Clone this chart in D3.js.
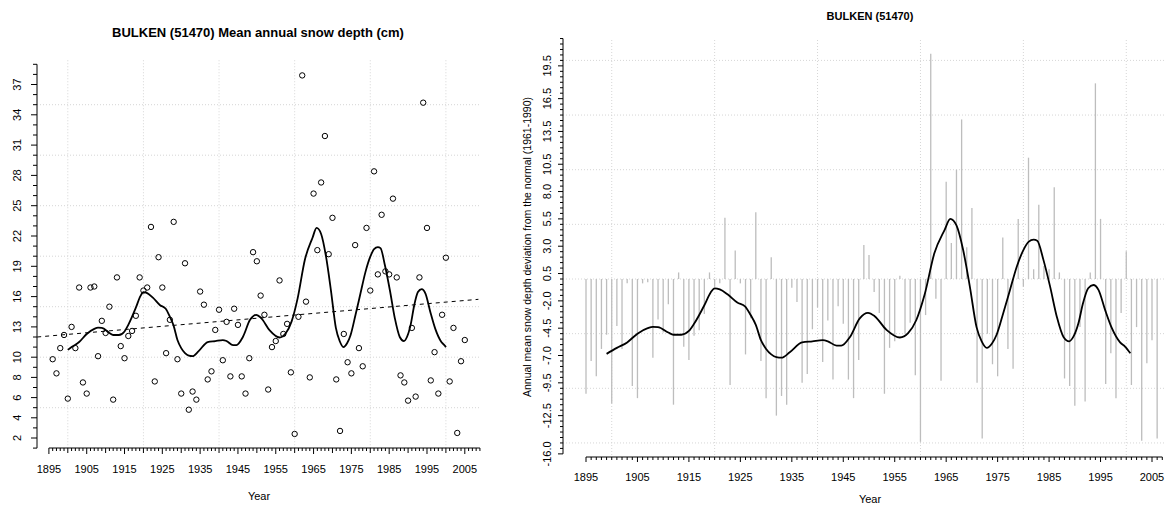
<!DOCTYPE html>
<html>
<head>
<meta charset="utf-8">
<script src="https://cdn.jsdelivr.net/npm/d3@7"></script>
<style>
  html, body { margin: 0; padding: 0; background: #fff; }
  svg { display: block; }
  text { font-family: "Liberation Sans", Arial, sans-serif; fill: #000; }
  .narrow { font-family: "Liberation Sans Narrow", "Arial Narrow", "Liberation Sans", sans-serif; }
</style>
</head>
<body>
<svg id="chart" width="1170" height="507"></svg>
<script>
// ---------------- DATA ----------------
const years = d3.range(1895, 2007);
const snowDepth = [
  6.8, 9.8, 8.4, 10.9, 12.2, 5.9, 13.0, 10.9, 16.9, 7.5,   // 1895-1904
  6.4, 16.9, 17.0, 10.1, 13.6, 12.4, 15.0, 5.8, 17.9, 11.1, // 1905-1914
  9.9, 12.1, 12.6, 14.1, 17.9, 16.6, 16.9, 22.9, 7.6, 19.9, // 1915-1924
  16.9, 10.4, 13.7, 23.4, 9.8, 6.4, 19.3, 4.8, 6.6, 5.8,    // 1925-1934
  16.5, 15.2, 7.8, 8.6, 12.7, 14.7, 9.7, 13.5, 8.1, 14.8,   // 1935-1944
  13.2, 8.1, 6.4, 9.9, 20.4, 19.5, 16.1, 14.2, 6.8, 11.0,   // 1945-1954
  11.6, 17.6, 12.3, 13.3, 8.5, 2.4, 14.0, 37.9, 15.5, 8.0,  // 1955-1964
  26.2, 20.6, 27.3, 31.9, 20.2, 23.8, 7.8, 2.7, 12.3, 9.5,  // 1965-1974
  8.4, 21.1, 10.9, 9.1, 22.8, 16.6, 28.4, 18.2, 24.1, 18.5, // 1975-1984
  18.2, 25.7, 17.9, 8.2, 7.5, 5.7, 12.9, 6.1, 17.9, 35.2,   // 1985-1994
  22.8, 7.7, 10.5, 6.4, 14.2, 19.85, 7.6, 12.9, 2.5, 9.6,   // 1995-2004
  11.7, 2.7                                                 // 2005-2006
];
const normalValue = 17.3; // mean 1961-1990
const leftYears = [1896, 2005];

const smoothYears = [1899, 1901, 1903, 1905, 1907, 1908, 1909, 1911, 1912, 1913.5, 1915, 1916, 1918,
  1919.2, 1920, 1921, 1922.5, 1924.4, 1925.9, 1927, 1928, 1929, 1930, 1931, 1932, 1933, 1934.6, 1937,
  1939, 1941, 1942, 1943.7, 1944.6, 1946.3, 1948.2, 1949.8, 1951.1, 1953.4, 1956, 1957.6, 1959.2,
  1960.8, 1962.7, 1964.7, 1965.8, 1967, 1968.3, 1969.6, 1970.9, 1971.9, 1972.9, 1973.9, 1974.8,
  1976.1, 1977.4, 1978.7, 1980, 1981, 1982, 1982.7, 1983.9, 1985.2, 1986.5, 1987.8, 1988.9, 1989.7,
  1990.7, 1991.6, 1992.6, 1993.6, 1994.6, 1995.9, 1997.2, 1998.8, 1999.8, 2000.8];
const smoothDeviation = [-6.85, -6.3, -5.8, -5.0, -4.5, -4.38, -4.4, -4.9, -5.1, -5.1, -4.75, -4.1, -2.4,
  -1.25, -0.85, -0.95, -1.4, -2.15, -2.5, -3.3, -4.2, -5.6, -6.4, -6.9, -7.15, -7.2, -6.7, -5.8,
  -5.7, -5.6, -5.7, -6.1, -6.1, -5.3, -3.6, -3.1, -3.4, -4.65, -5.35, -4.95, -3.75,
  -1.45, 2.35, 4.5, 5.5, 4.9, 2.65, -0.7, -4.4, -5.7, -6.3, -5.9, -5.1,
  -3.1, -1.0, 1.1, 2.65, 3.4, 3.6, 3.5, 1.75, -0.7, -3.45, -5.3, -5.7, -5.3,
  -4.05, -2.2, -0.85, -0.55, -1.0, -2.85, -4.5, -5.8, -6.2, -6.8];
const leftSmoothRange = [1900, 2000];

const trendYears = [1891.9, 2008.6];
const trendValues = [12.0, 15.73];

const leftYTickLabels = [2, 4, 6, 8, 10, 13, 16, 19, 22, 25, 28, 31, 34, 37];
const leftGridY = [5, 10, 15, 20, 25, 30, 35];
const rightYTickLabels = [-16.0, -12.5, -9.5, -7.0, -4.5, -2.0, 0.5, 3.0, 5.5, 8.0, 10.5, 13.5, 16.5, 19.5];
const rightGridY = [-15, -10, -5, 0, 5, 10, 15, 20];
const xTickLabels = [1895, 1905, 1915, 1925, 1935, 1945, 1955, 1965, 1975, 1985, 1995, 2005];
const gridYears = [1900, 1920, 1940, 1960, 1980, 2000];

const leftTitle = "BULKEN (51470) Mean annual snow depth (cm)";
const rightTitle = "BULKEN (51470)";
const rightYTitle = "Annual mean snow depth deviation from the normal (1961-1990)";

// ---------------- DRAW ----------------
const svg = d3.select("#chart");
const gridColor = "#d6d6d6";
const data = years.map((y, i) => ({ year: y, value: snowDepth[i], dev: +(snowDepth[i] - normalValue).toFixed(2) }));
const smooth = smoothYears.map((y, i) => ({ year: y, dev: smoothDeviation[i] }));

// ===== LEFT CHART =====
{
  const x = d3.scaleLinear().domain([1895, 2005]).range([48.9, 464.8]);
  const y = d3.scaleLinear().domain([2, 37]).range([438, 84.5]);
  const left = 37, right = 480, top = y(39.4), bottom = y(1);
  const g = svg.append("g");

  // grid
  g.selectAll(".vg").data(gridYears).join("line")
    .attr("x1", d => x(d)).attr("x2", d => x(d)).attr("y1", top).attr("y2", bottom)
    .attr("stroke", gridColor).attr("stroke-dasharray", "1,2");
  g.selectAll(".hg").data(leftGridY).join("line")
    .attr("x1", left).attr("x2", right).attr("y1", d => y(d)).attr("y2", d => y(d))
    .attr("stroke", gridColor).attr("stroke-dasharray", "1,2");

  // y axis
  const yAx = g.append("g").attr("transform", `translate(${left},0)`);
  yAx.append("line").attr("x1", 0).attr("x2", 0).attr("y1", y(1)).attr("y2", y(39)).attr("stroke", "#000");
  yAx.selectAll(".yt").data(d3.range(1, 40)).join("line")
    .attr("x1", 0).attr("x2", d => leftYTickLabels.includes(d) ? -6 : -4)
    .attr("y1", d => y(d)).attr("y2", d => y(d)).attr("stroke", "#000");
  yAx.selectAll(".yl").data(leftYTickLabels).join("text")
    .attr("transform", d => `translate(-16,${y(d)}) rotate(-90)`)
    .attr("text-anchor", "middle").attr("font-size", 11).attr("fill", "#333")
    .text(d => d);

  // x axis
  const xAx = g.append("g").attr("transform", `translate(0,448)`);
  xAx.append("line").attr("x1", x(1895)).attr("x2", x(2009)).attr("y1", 0).attr("y2", 0).attr("stroke", "#000");
  xAx.selectAll(".xt").data(d3.range(1895, 2010)).join("line")
    .attr("x1", d => x(d)).attr("x2", d => x(d)).attr("y1", 0)
    .attr("y2", d => (d - 1895) % 10 === 0 ? 6 : ((d - 1895) % 5 === 0 ? 5 : 3)).attr("stroke", "#000");
  xAx.selectAll(".xl").data(xTickLabels).join("text")
    .attr("x", d => x(d)).attr("y", 25).attr("text-anchor", "middle").attr("font-size", 11).attr("fill", "#333")
    .text(d => d);

  g.append("text").attr("x", 259).attr("y", 500).attr("text-anchor", "middle").attr("font-size", 11)
    .attr("fill", "#333").text("Year");
  g.append("text").attr("x", 258).attr("y", 37).attr("text-anchor", "middle").attr("font-size", 13)
    .attr("font-weight", "bold").text(leftTitle);

  // trend
  const trend = trendYears.map((t, i) => ({ year: t, value: trendValues[i] }));
  g.append("path").datum(trend)
    .attr("d", d3.line().x(d => x(d.year)).y(d => y(d.value)))
    .attr("stroke", "#000").attr("stroke-width", 1).attr("stroke-dasharray", "4,4").attr("fill", "none");

  // points
  g.selectAll(".pt").data(data.filter(d => d.year >= leftYears[0] && d.year <= leftYears[1])).join("circle")
    .attr("cx", d => x(d.year)).attr("cy", d => y(d.value)).attr("r", 2.7)
    .attr("fill", "none").attr("stroke", "#000").attr("stroke-width", 1);

  // smooth
  const interp = d3.scaleLinear().domain(smoothYears).range(smoothDeviation);
  const ls = smooth.filter(d => d.year > leftSmoothRange[0] && d.year < leftSmoothRange[1]);
  const lsFull = [{ year: leftSmoothRange[0], dev: interp(leftSmoothRange[0]) }, ...ls,
                  { year: leftSmoothRange[1], dev: interp(leftSmoothRange[1]) }];
  g.append("path").datum(lsFull)
    .attr("d", d3.line().curve(d3.curveMonotoneX).x(d => x(d.year)).y(d => y(d.dev + normalValue)))
    .attr("stroke", "#000").attr("stroke-width", 1.8).attr("fill", "none");
}

// ===== RIGHT CHART =====
{
  const x = d3.scaleLinear().domain([1895, 2005]).range([586, 1152]);
  const y = d3.scaleLinear().domain([0, 20]).range([279, 60.4]);
  const left = 563, right = 1165, top = 40, bottom = 457;
  const g = svg.append("g");

  g.selectAll(".vg").data(gridYears).join("line")
    .attr("x1", d => x(d)).attr("x2", d => x(d)).attr("y1", top).attr("y2", bottom)
    .attr("stroke", gridColor).attr("stroke-dasharray", "1,2");
  g.selectAll(".hg").data(rightGridY).join("line")
    .attr("x1", left).attr("x2", right).attr("y1", d => y(d)).attr("y2", d => y(d))
    .attr("stroke", gridColor).attr("stroke-dasharray", "1,2");

  // bars
  g.selectAll(".bar").data(data).join("line")
    .attr("x1", d => x(d.year)).attr("x2", d => x(d.year))
    .attr("y1", y(0)).attr("y2", d => y(d.dev))
    .attr("stroke", "#bdbdbd").attr("stroke-width", 1.3);

  // smooth
  g.append("path").datum(smooth)
    .attr("d", d3.line().curve(d3.curveMonotoneX).x(d => x(d.year)).y(d => y(d.dev)))
    .attr("stroke", "#000").attr("stroke-width", 1.8).attr("fill", "none");

  // y axis
  const yAx = g.append("g").attr("transform", `translate(${left},0)`);
  yAx.append("line").attr("x1", 0).attr("x2", 0).attr("y1", y(-16)).attr("y2", y(22)).attr("stroke", "#000");
  yAx.selectAll(".yt").data(d3.range(-32, 45).map(v => v / 2)).join("line")
    .attr("x1", 0).attr("x2", d => rightYTickLabels.includes(d) ? -5 : -3)
    .attr("y1", d => y(d)).attr("y2", d => y(d)).attr("stroke", "#000");
  yAx.selectAll(".yl").data(rightYTickLabels).join("text")
    .attr("class", "narrow")
    .attr("transform", d => `translate(-12,${y(d)}) rotate(-90)`)
    .attr("text-anchor", "middle").attr("font-size", 11).attr("fill", "#222")
    .text(d => d.toFixed(1));
  g.append("text").attr("transform", `translate(531,247) rotate(-90)`)
    .attr("text-anchor", "middle").attr("font-size", 10.5).attr("fill", "#1c2640")
    .text(rightYTitle);

  // x axis
  const xAx = g.append("g").attr("transform", `translate(0,${bottom})`);
  xAx.append("line").attr("x1", x(1895)).attr("x2", x(2007)).attr("y1", 0).attr("y2", 0).attr("stroke", "#000");
  xAx.selectAll(".xt").data(d3.range(1895, 2008)).join("line")
    .attr("x1", d => x(d)).attr("x2", d => x(d)).attr("y1", 0)
    .attr("y2", d => (d - 1895) % 10 === 0 ? 5 : 3).attr("stroke", "#000");
  xAx.selectAll(".xl").data(xTickLabels).join("text")
    .attr("class", "narrow")
    .attr("x", d => x(d)).attr("y", 24).attr("text-anchor", "middle").attr("font-size", 11).attr("fill", "#222")
    .text(d => d);

  g.append("text").attr("class", "narrow").attr("x", 870).attr("y", 503).attr("text-anchor", "middle")
    .attr("font-size", 11).attr("fill", "#222").text("Year");
  g.append("text").attr("x", 870).attr("y", 20).attr("text-anchor", "middle").attr("font-size", 11)
    .attr("font-weight", "bold").text(rightTitle);
}
</script>
</body>
</html>
